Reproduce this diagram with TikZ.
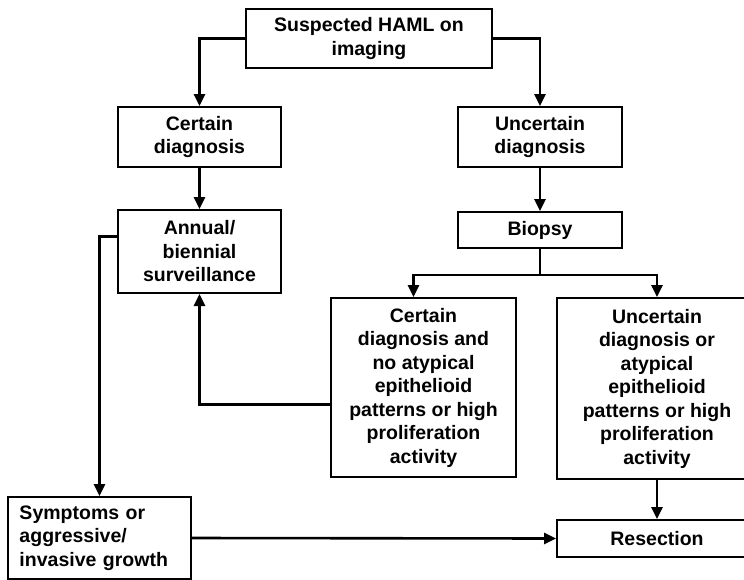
\documentclass[tikz,border=0pt]{standalone}
\usepackage{fontspec}
\setmainfont{Liberation Sans}
\usetikzlibrary{arrows.meta, positioning}

\begin{document}
\begin{tikzpicture}[x=1pt, y=-1pt,
  box/.style={draw, line width=2pt, align=center, inner sep=2pt,
    font=\bfseries\fontsize{19.5}{23.5}\selectfont},
  flow/.style={line width=2.6pt, -{Triangle[length=12pt,width=11pt]}}]
  % Page frame
  \clip (0,0) rectangle (744,579);

  % --- Imaging and first split ---
  \node[box, minimum width=246, minimum height=59] (suspect) at (369,38.5) {Suspected HAML on\\imaging};
  \node[box, minimum width=163, minimum height=60] (certain) at (199.5,137) {Certain\\diagnosis};
  \node[box, minimum width=164, minimum height=60] (uncertain) at (540,137) {Uncertain\\diagnosis};

  % --- Left branch ---
  \node[box, minimum width=163, minimum height=83] (surveil) at (199.5,251.5) {Annual/\\biennial\\surveillance};
  \node[box, minimum width=183, minimum height=82, align=left, text width=160] (symptoms) at (99.5,538) {Symptoms or\\aggressive/\\invasive growth};

  % --- Right branch ---
  \node[box, minimum width=164, minimum height=36] (biopsy) at (540,230) {Biopsy};
  \node[box, minimum width=185, minimum height=179] (benign) at (423.5,387.5) {Certain\\diagnosis and\\no atypical\\epithelioid\\patterns or high\\proliferation\\activity};
  \node[box, minimum width=200, minimum height=181] (atypical) at (657,388.5) {Uncertain\\diagnosis or\\atypical\\epithelioid\\patterns or high\\proliferation\\activity};
  \node[box, minimum width=200, minimum height=37] (resect) at (657,538.5) {Resection};

  % --- Connectors ---
  \draw[flow] (suspect.west) -| (certain.north);
  \draw[flow] (suspect.east) -| (uncertain.north);
  \draw[flow] (certain.south) -- (surveil.north);
  \draw[flow] (uncertain.south) -- (biopsy.north);
  \coordinate (split) at (540,275);
  \draw[line width=2.6pt] (biopsy.south) -- (split);
  \draw[flow] (split) -| ([xshift=-10pt]benign.north);
  \draw[flow] (split) -| (atypical.north);
  \draw[flow] ([yshift=-17pt]benign.west) -| (surveil.south);
  \draw[flow] ([yshift=15pt]surveil.west) -| (symptoms.north);
  \draw[flow] (symptoms.east) -- (resect.west);
  \draw[flow] (atypical.south) -- (resect.north);
\end{tikzpicture}
\end{document}
